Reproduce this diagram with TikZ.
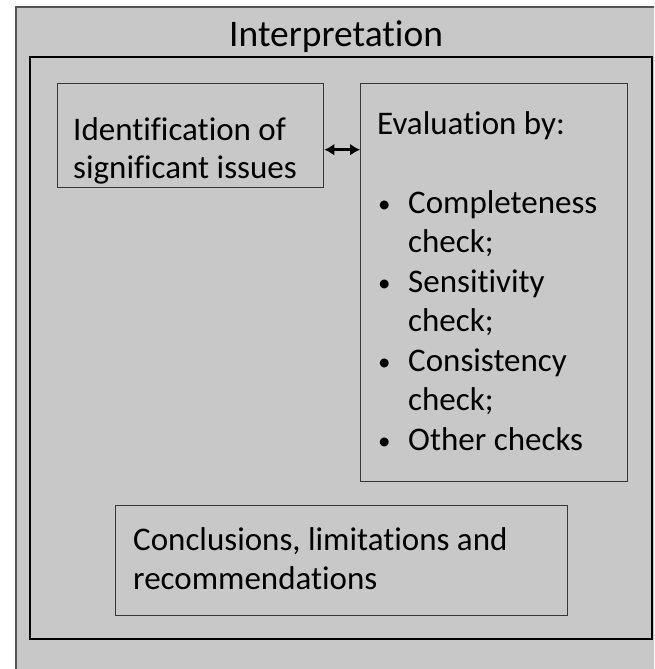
\documentclass[tikz,border=0pt]{standalone}
\usepackage{fontspec}
\setmainfont{Carlito}[Ligatures=NoCommon]
\usetikzlibrary{arrows.meta,positioning}
\definecolor{panelGray}{RGB}{200,200,200}
\definecolor{frameGray}{RGB}{85,85,85}
\definecolor{boxEdge}{RGB}{55,55,55}
\newcommand{\evBullet}{\makebox[31pt][l]{\hspace{1pt}\raisebox{0.5pt}{\fontsize{25}{25}\selectfont\textbullet}}}
\newcommand{\evIndent}{\hspace*{31pt}}
\tikzset{
  stageBox/.style={draw=boxEdge, line width=1.4pt, fill=panelGray, inner sep=0pt, anchor=north west},
  stageText/.style={anchor=north west, inner sep=0pt, align=left, font=\fontsize{33}{39.5}\selectfont},
}
\begin{document}
\begin{tikzpicture}[x=1pt,y=-1pt]
\useasboundingbox (0,0) rectangle (654,669);
\clip (0,0) rectangle (654,669);
\fill[white] (0,0) rectangle (654,669);
\draw[frameGray, line width=1.3pt, fill=panelGray] (16,7) rectangle (690,700);
\node[font=\fontsize{37.5}{42}\selectfont, anchor=base west, inner sep=0pt] (title) at (229,47) {Interpretation};
\draw[black, line width=1.8pt] (30,57) rectangle (652,639);
\node[stageBox, minimum width=266pt, minimum height=104pt] (ident) at (57,83) {};
\node[stageBox, minimum width=267pt, minimum height=398pt] (eval) at (360,83) {};
\node[stageBox, minimum width=452pt, minimum height=110pt] (concl) at (115,505) {};
\node[stageText] (identText) at (73,117) {Identification of\\[-1.5pt]significant issues};
\node[stageText] (evalText) at (377,111) {Evaluation by:\\ \\
\evBullet Completeness\\\evIndent check;\\
\evBullet Sensitivity\\\evIndent check;\\
\evBullet Consistency\\\evIndent check;\\
\evBullet Other checks};
\node[stageText] (conclText) at (133,527) {Conclusions, limitations and\\recommendations};
\draw[{Latex[length=10pt,width=12pt]}-{Latex[length=10pt,width=12pt]}, line width=2.6pt] ([yshift=-14pt]ident.east) -- ([yshift=-14pt]ident.east -| eval.west);
\end{tikzpicture}
\end{document}
